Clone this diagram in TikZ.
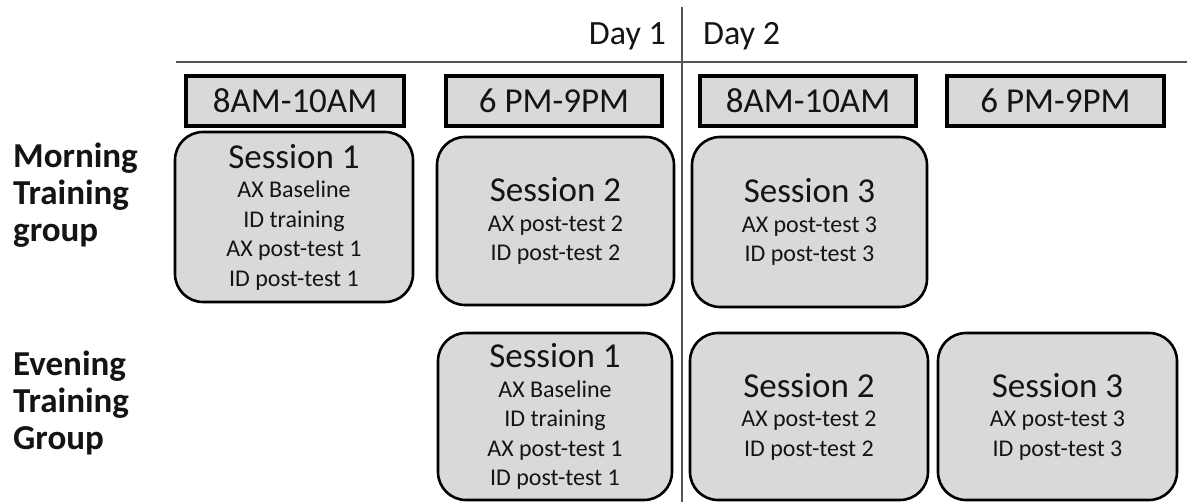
\documentclass[tikz,border=0pt]{standalone}
\usepackage{fontspec}
\setmainfont{Carlito}
\definecolor{boxgray}{HTML}{D9D9D9}
\definecolor{txt}{HTML}{141414}
\definecolor{rulegray}{HTML}{555555}
\newcommand{\sesstitle}[1]{{\fontsize{35}{35}\selectfont #1}}
\begin{document}
\begin{tikzpicture}[x=1pt,y=-1pt,
  sess/.style={draw=black, line width=2.6pt, fill=boxgray, rounded corners=28pt, align=center, inner sep=0pt, font=\fontsize{24}{29.5}\selectfont, text=txt},
  timebox/.style={draw=black, line width=4.5pt, fill=boxgray, inner sep=0pt, minimum height=50pt, font=\fontsize{35}{40}\selectfont, text=txt},
  grp/.style={align=left, anchor=north west, inner sep=0pt, font=\bfseries\fontsize{35}{37}\selectfont, text=txt},
  day/.style={inner sep=0pt, font=\fontsize{34}{40}\selectfont, text=txt},
  sep/.style={draw=rulegray, line width=1.4pt}]
\useasboundingbox (0,0) rectangle (1187,502);

% separators
\coordinate (vtop) at (682,7);
\coordinate (vbot) at (682,502);
\coordinate (hleft) at (176,62);
\coordinate (hright) at (1187,62);
\draw[sep] (vtop) -- (vbot);
\draw[sep] (hleft) -- (hright);

% day labels
\node[day, anchor=base east] (day1) at (666,45) {Day 1};
\node[day, anchor=base west] (day2) at (703,45) {Day 2};

% time boxes
\node[timebox, minimum width=218pt] (tb1) at (295,101) {8AM-10AM};
\node[timebox, minimum width=216pt] (tb2) at (554,101) {6 PM-9PM};
\node[timebox, minimum width=216pt] (tb3) at (808,101) {8AM-10AM};
\node[timebox, minimum width=217pt] (tb4) at (1055.5,101) {6 PM-9PM};

% group labels
\node[grp] (gm) at (13,142.5) {Morning\\Training\\group};
\node[grp] (ge) at (13,350.5) {Evening\\Training\\Group};

% morning sessions
\node[sess, minimum width=238pt, minimum height=170pt] (ms1) at (294,217)
  {\sesstitle{Session 1}\\AX Baseline\\ID training\\AX post-test 1\\ID post-test 1};
\node[sess, minimum width=237pt, minimum height=168pt] (ms2) at (555.5,221)
  {\sesstitle{Session 2}\\AX post-test 2\\ID post-test 2};
\node[sess, minimum width=235pt, minimum height=170pt] (ms3) at (809.5,222)
  {\sesstitle{Session 3}\\AX post-test 3\\ID post-test 3};

% evening sessions
\node[sess, minimum width=234pt, minimum height=167pt] (es1) at (555,416.5)
  {\sesstitle{Session 1}\\AX Baseline\\ID training\\AX post-test 1\\ID post-test 1};
\node[sess, minimum width=238pt, minimum height=167pt] (es2) at (809,416.5)
  {\sesstitle{Session 2}\\AX post-test 2\\ID post-test 2};
\node[sess, minimum width=239pt, minimum height=167pt] (es3) at (1057.5,416.5)
  {\sesstitle{Session 3}\\AX post-test 3\\ID post-test 3};
\end{tikzpicture}
\end{document}
